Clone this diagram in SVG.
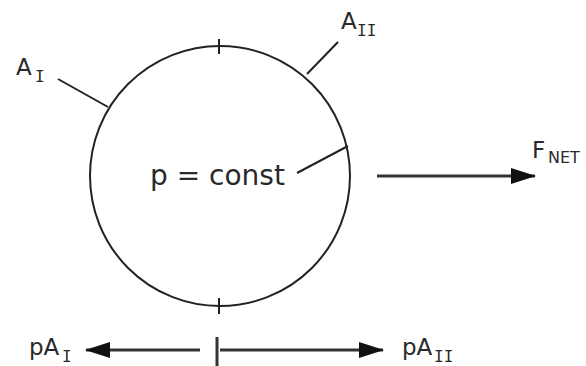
<svg xmlns="http://www.w3.org/2000/svg" width="586" height="366" viewBox="0 0 586 366">
<style>
.t{font-family:"DejaVu Sans",Verdana,sans-serif;fill:#2a2a2a}
.s{font-family:"DejaVu Sans Mono",monospace;fill:#2a2a2a}
.ln{stroke:#222;stroke-width:2;fill:none}
.ar{stroke:#333;stroke-width:3;fill:none}
</style>
<defs>
<marker id="ah" markerUnits="userSpaceOnUse" markerWidth="26" markerHeight="16" refX="24" refY="8" orient="auto">
<path d="M0,0 L25,8 L0,16 Z" fill="#111"/>
</marker>
</defs>
<rect width="586" height="366" fill="#fff"/>
<g id="body">
<circle cx="220" cy="176" r="130" class="ln"/>
<line x1="219" y1="39" x2="219" y2="54" class="ln"/>
<line x1="219" y1="298" x2="219" y2="314" class="ln"/>
<text class="t" x="150" y="185" font-size="28">p = const</text>
<line x1="297" y1="173" x2="348" y2="146" class="ln"/>
</g>
<g id="label-AI">
<line x1="58" y1="79" x2="108" y2="107" class="ln"/>
<text class="t" x="16" y="75" font-size="23">A</text>
<text class="s" x="35" y="82" font-size="16">I</text>
</g>
<g id="label-AII">
<line x1="338" y1="42" x2="307" y2="74" class="ln"/>
<text class="t" x="341" y="29" font-size="23">A</text>
<text class="s" x="357" y="36" font-size="16">II</text>
</g>
<g id="label-FNET">
<text class="t" x="532" y="158" font-size="23">F</text>
<text class="t" x="548" y="163" font-size="16">NET</text>
</g>
<g id="label-pAI">
<text class="t" x="29" y="355" font-size="23">pA</text>
<text class="s" x="62" y="362" font-size="16">I</text>
</g>
<g id="label-pAII">
<text class="t" x="402" y="355" font-size="23">pA</text>
<text class="s" x="434" y="362" font-size="16">II</text>
</g>
<g id="connectors">
<line x1="377" y1="176" x2="535" y2="176" class="ar" marker-end="url(#ah)"/>
<line x1="200" y1="350" x2="86" y2="350" class="ar" marker-end="url(#ah)"/>
<line x1="220" y1="350" x2="383" y2="350" class="ar" marker-end="url(#ah)"/>
<line x1="217" y1="337" x2="217" y2="366" class="ar"/>
</g>
</svg>
